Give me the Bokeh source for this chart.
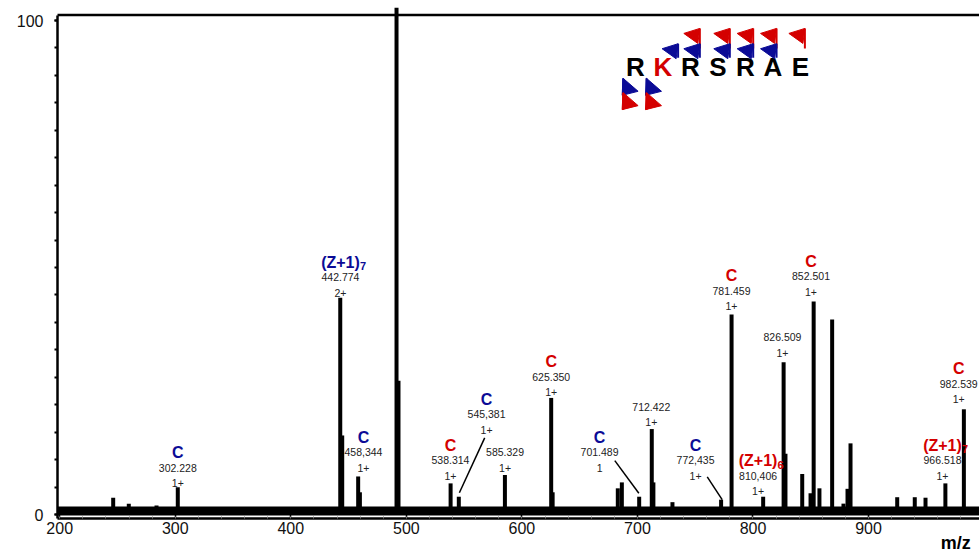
from bokeh.plotting import figure
from bokeh.models import Range1d, FixedTicker, ColumnDataSource
from bokeh.core.properties import value
from bokeh.embed import file_html
from bokeh.resources import INLINE

FONT = "Liberation Sans"
BLUE = "#0b0b96"
RED = "#d40000"

# ---------------- data ----------------
peak_mz = [246.3, 259.8, 283.8, 302.2, 442.8, 444.5, 458.3, 459.8, 491.5, 493.2,
           538.3, 545.4, 585.3, 625.35, 626.6, 683.0, 686.5, 701.5, 712.4, 713.8,
           730.3, 772.4, 781.46, 808.8, 826.5, 828.1, 842.6, 849.8, 852.5, 857.5,
           868.5, 878.3, 881.8, 884.4, 924.8, 940.0, 949.3, 966.5, 982.5]
peak_int = [3.4, 2.2, 1.8, 5.5, 43.9, 16.0, 7.7, 4.5, 102.6, 27.1,
            6.3, 3.6, 8.0, 23.6, 4.5, 5.3, 6.5, 3.6, 17.3, 6.5,
            2.5, 3.0, 40.5, 3.6, 30.8, 12.3, 8.2, 4.3, 43.1, 5.3,
            39.5, 2.2, 5.2, 14.4, 3.5, 3.5, 3.4, 6.3, 21.3]
baseline_level = 0.7

ann_mass = ["302.228", "442.774", "458,344", "538.314", "545,381", "585.329", "625.350", "701.489",
            "712.422", "772,435", "781.459", "810,406", "826.509", "852.501", "966.518", "982.539"]
ann_charge = ["1+", "2+", "1+", "1+", "1+", "1+", "1+", "1",
              "1+", "1+", "1+", "1+", "1+", "1+", "1+", "1+"]
ann_ion = ["C", "(Z+1)", "C", "C", "C", "", "C", "C",
           "", "C", "C", "(Z+1)", "", "C", "(Z+1)", "C"]
ann_sub = ["", "7", "", "", "", "", "", "",
           "", "", "", "6", "", "", "7", ""]
ann_series = ["b", "b", "b", "r", "b", "", "r", "b",
              "", "b", "r", "r", "", "r", "r", "r"]
# where each label stack sits (m/z, %)
ann_x = [302.2, 443.0, 462.9, 538.2, 569.4, 585.4, 625.35, 667.2,
         712.0, 750.3, 781.4, 804.4, 825.5, 850.2, 964.0, 978.0]
ann_y = [5.4, 44.0, 8.6, 6.9, 16.2, 8.6, 23.8, 8.6,
         17.8, 6.9, 41.2, 3.8, 31.8, 44.2, 6.9, 22.4]

# leader lines (label -> peak)
lead_x0 = [567.8, 680.4, 760.4]
lead_y0 = [15.5, 10.9, 7.6]
lead_x1 = [545.9, 701.2, 773.3]
lead_y1 = [4.4, 4.3, 3.0]

# peptide sequence with fragment flags (positions in residue index units)
seq_letters = ["R", "K", "R", "S", "R", "A", "E"]
seq_mark = [False, True, False, False, False, False, False]
flag_top_blue = [1.55, 2.34, 3.43, 4.28, 5.13]
flag_top_red = [2.34, 3.43, 4.28, 5.13, 6.16]
flag_bottom_blue = [-0.45, 0.40]
flag_bottom_red = [-0.45, 0.40]

x_ticks = [200, 300, 400, 500, 600, 700, 800, 900]
y_ticks = [0, 100]
x_title = "m/z"

# ---------------- figure ----------------
W, H = 979, 552
PX_PER_MZ = 1.1555
PX_PER_PCT = 4.94
AXIS_X = 198.1      # m/z where the intensity axis sits
AXIS_Y = -0.81      # intensity where the m/z axis sits
TOP_Y = 101.1       # top frame line
X0 = AXIS_X - 57 / PX_PER_MZ
X1 = X0 + W / PX_PER_MZ
Y1 = 104.05
Y0 = Y1 - H / PX_PER_PCT

p = figure(width=W, height=H, output_backend="svg", toolbar_location=None,
           x_range=Range1d(X0, X1), y_range=Range1d(Y0, Y1),
           min_border_left=0, min_border_right=0, min_border_top=0, min_border_bottom=0)
p.outline_line_color = None
p.xgrid.visible = False
p.ygrid.visible = False

PXX = 1 / PX_PER_MZ   # data units per pixel
PXY = 1 / PX_PER_PCT

xa = p.xaxis[0]
xa.fixed_location = AXIS_Y
xa.bounds = (AXIS_X, X1)
xa.ticker = FixedTicker(ticks=x_ticks, minor_ticks=list(range(200, 1000, 20)))
xa.axis_line_width = 2.5
xa.major_tick_in = 4
xa.major_tick_out = 0
xa.minor_tick_in = 2
xa.minor_tick_out = 0
xa.major_tick_line_width = 1.5
xa.minor_tick_line_color = "#777777"
xa.major_label_text_font = FONT
xa.major_label_text_font_size = "16px"
xa.major_label_text_color = "#111111"
xa.major_label_standoff = 3

ya = p.yaxis[0]
ya.fixed_location = AXIS_X
ya.bounds = (AXIS_Y, TOP_Y)
ya.ticker = FixedTicker(ticks=y_ticks, minor_ticks=[100.0 * k / 18 for k in range(19)])
ya.axis_line_width = 2.5
ya.major_tick_in = 0
ya.major_tick_out = 3
ya.minor_tick_in = 0
ya.minor_tick_out = 3
ya.major_tick_line_width = 2
ya.minor_tick_line_width = 2
ya.major_label_text_font = FONT
ya.major_label_text_font_size = "16px"
ya.major_label_text_color = "#111111"
ya.major_label_standoff = 11

# top frame line
p.line(x=[AXIS_X, X1], y=[TOP_Y, TOP_Y], line_color="black", line_width=2.5)

# spectrum
p.line(x=[AXIS_X, X1], y=[baseline_level, baseline_level], line_color="black", line_width=9)
p.segment(x0=peak_mz, y0=[0] * len(peak_mz), x1=peak_mz, y1=peak_int,
          line_color="black", line_width=4)

# annotations
col = {"b": BLUE, "r": RED, "": "black"}
src = ColumnDataSource(dict(x=ann_x, y=ann_y, mass=ann_mass, charge=ann_charge,
                            ion=ann_ion, sub=ann_sub,
                            color=[col[s] for s in ann_series]))
p.text(x="x", y="y", text="charge", source=src, y_offset=-4.5,
       text_align="center", text_baseline="middle",
       text_font=value(FONT), text_font_size="10.5px", text_color="#222222")
p.text(x="x", y="y", text="mass", source=src, y_offset=-20,
       text_align="center", text_baseline="middle",
       text_font=value(FONT), text_font_size="10.5px", text_color="#222222")
p.text(x="x", y="y", text="ion", source=src, y_offset=-35,
       text_align="center", text_baseline="middle",
       text_font=value(FONT), text_font_size="16px", text_font_style="bold",
       text_color="color")
p.text(x="x", y="y", text="sub", source=src, x_offset=19.5, y_offset=-31,
       text_align="left", text_baseline="middle",
       text_font=value(FONT), text_font_size="11px", text_font_style="bold",
       text_color="color")
p.segment(x0=lead_x0, y0=lead_y0, x1=lead_x1, y1=lead_y1, line_color="black", line_width=1.5)

# peptide sequence
seq_x0, seq_step, seq_y = 698.3, 23.8, 90.5
sx = [seq_x0 + i * seq_step for i in range(len(seq_letters))]
p.text(x=sx, y=[seq_y] * len(seq_letters), text=seq_letters,
       text_color=[RED if m else "black" for m in seq_mark],
       text_align="center", text_baseline="middle",
       text_font=value(FONT), text_font_size="26px", text_font_style="bold")


def top_flags(pos, top_val, color, stem_px):
    xs, ys, s0, s1, sx_ = [], [], [], [], []
    for f in pos:
        x = seq_x0 + f * seq_step
        xs.append([x, x - 16 * PXX, x - 2 * PXX])
        ys.append([top_val, top_val - 5 * PXY, top_val - 15 * PXY])
        sx_.append(x)
        s0.append(top_val)
        s1.append(top_val - stem_px * PXY)
    p.patches(xs, ys, fill_color=color, line_color=color, line_width=1)
    p.segment(x0=sx_, y0=s0, x1=sx_, y1=s1, line_color=color, line_width=2)


def bottom_flags(pos, top_val, color):
    xs, ys, s0, s1, sx_ = [], [], [], [], []
    for f in pos:
        x = seq_x0 + f * seq_step
        xs.append([x, x + 15 * PXX, x - 1 * PXX])
        ys.append([top_val, top_val - 13 * PXY, top_val - 17 * PXY])
        sx_.append(x)
        s0.append(top_val)
        s1.append(top_val - 17 * PXY)
    p.patches(xs, ys, fill_color=color, line_color=color, line_width=1)
    p.segment(x0=sx_, y0=s0, x1=sx_, y1=s1, line_color=color, line_width=2)


top_flags(flag_top_red, 98.4, RED, 20)
top_flags(flag_top_blue, 95.3, BLUE, 14)
bottom_flags(flag_bottom_blue, 88.3, BLUE)
bottom_flags(flag_bottom_red, 85.4, RED)

# axis title, placed at the right end under the axis
p.text(x=[962.5], y=[AXIS_Y], text=[x_title], y_offset=24,
       text_align="left", text_baseline="middle",
       text_font=value(FONT), text_font_size="18px", text_font_style="bold", text_color="black")

open("out.html", "w").write(file_html(p, INLINE))
